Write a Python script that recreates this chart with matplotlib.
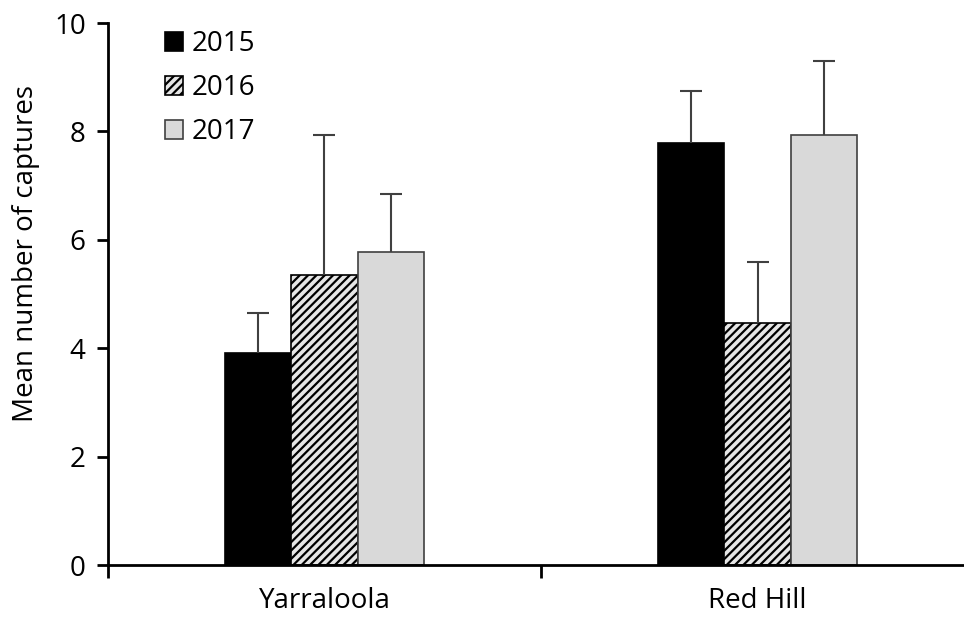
import numpy as np
import matplotlib
matplotlib.use("Agg")
import matplotlib.pyplot as plt

sites = ["Yarraloola", "Red Hill"]
years = ["2015", "2016", "2017"]
means = {
    "2015": [3.91, 7.79],
    "2016": [5.35, 4.46],
    "2017": [5.77, 7.93],
}
errors = {
    "2015": [0.74, 0.96],
    "2016": [2.58, 1.13],
    "2017": [1.07, 1.37],
}

plt.rcParams['font.family'] = ['Open Sans', 'DejaVu Sans']
plt.rcParams['hatch.linewidth'] = 1.6

fig = plt.figure(figsize=(9.64, 6.19), dpi=100)
ax = fig.add_axes([0.112, 0.0872, 1.0104 - 0.112, 0.9628 - 0.0872])

styles = {
    "2015": dict(color="black", edgecolor="black"),
    "2016": dict(color="#e6e6e6", edgecolor="black", hatch="////"),
    "2017": dict(color="#d9d9d9", edgecolor="#404040"),
}

x = np.array([0.5, 1.5])
width = 0.1536
for i, yr in enumerate(years):
    pos = x + (i - 1) * width
    ax.bar(pos, means[yr], width, linewidth=1.2, label=yr, zorder=2, **styles[yr])
    eb = ax.errorbar(pos, means[yr], yerr=[np.zeros(2), errors[yr]], fmt="none",
                     ecolor="#404040", elinewidth=1.5, capsize=8, capthick=1.5, zorder=3)
    # only the upper half of the error bar is drawn
    eb[1][0].set_visible(False)

ax.set_xlim(0, 2)
ax.set_ylim(0, 10)
ax.set_yticks([0, 2, 4, 6, 8, 10])
ax.set_xticks([0, 1, 2])
ax.set_xticklabels([])
ax.set_xticks(x, minor=True)
ax.set_xticklabels(sites, minor=True, fontsize=20)
ax.tick_params(axis="x", which="minor", length=0, pad=16)
ax.tick_params(axis="x", which="major", direction="out", length=9, width=2)
ax.tick_params(axis="y", direction="out", length=8, width=2, labelsize=20, pad=8)

ax.spines["top"].set_visible(False)
ax.spines["right"].set_visible(False)
ax.spines["left"].set_linewidth(2)
ax.spines["bottom"].set_linewidth(2)

ax.set_ylabel("Mean number of captures", fontsize=20)
ax.yaxis.set_label_coords(-0.0785, 0.574)

ax.legend(loc="upper left", bbox_to_anchor=(165 / 964, 1 - 30 / 619),
          bbox_transform=fig.transFigure, frameon=False, borderpad=0,
          borderaxespad=0, fontsize=20, handlelength=0.65, handleheight=0.65,
          handletextpad=0.3, labelspacing=0.58)

fig.savefig("out.png", dpi=100)
